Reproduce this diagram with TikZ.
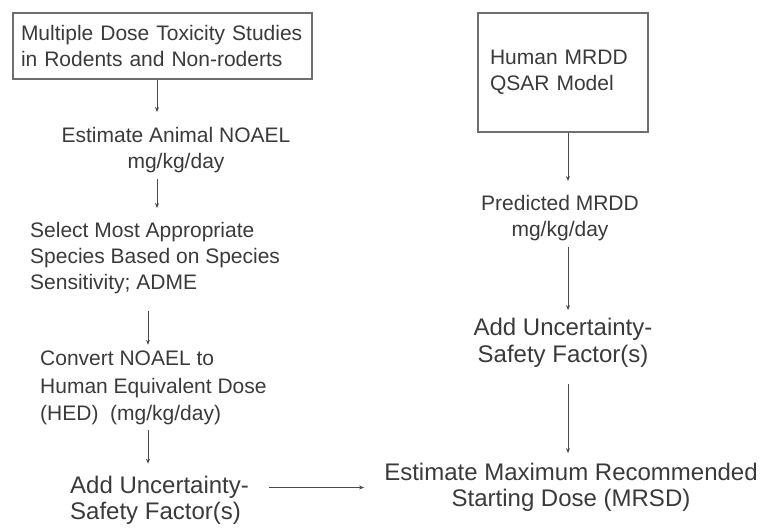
\documentclass[tikz,border=0pt]{standalone}
\usepackage{fontspec}
\setmainfont{Liberation Sans}
\usetikzlibrary{arrows.meta}
\definecolor{txt}{HTML}{3A3A3A}
\definecolor{ln}{HTML}{4A4A4A}
\begin{document}
\begin{tikzpicture}[x=1pt,y=-1pt,
  base/.style={text=txt,inner sep=0pt,font=\fontsize{21}{26}\selectfont},
  big/.style={text=txt,inner sep=0pt,font=\fontsize{24}{26}\selectfont},
  boxnode/.style={draw=ln!80,line width=1.4pt,text=txt,font=\fontsize{21}{26}\selectfont,align=left},
  arr/.style={draw=ln,line width=0.9pt,-{Stealth[length=5pt,width=4pt]}}]
\useasboundingbox (0,0) rectangle (762,531);
% left column
\node[boxnode,minimum width=299pt,minimum height=66pt,text width=283pt,inner sep=0pt] (tox) at (162.5,46)
  {Multiple Dose Toxicity Studies\\in Rodents and Non-roderts};
\node[base,align=center] (noael) at (176,150) {Estimate Animal NOAEL\\mg/kg/day};
\node[base,align=left,anchor=west] (sel) at (30,258) {Select Most Appropriate\\Species Based on Species\\Sensitivity; ADME};
\node[base,align=left,anchor=west,font=\fontsize{21}{27.5}\selectfont] (hed) at (40,388) {Convert NOAEL to\\Human Equivalent Dose\\(HED)~ (mg/kg/day)};
\node[big,align=left,anchor=west] (addl) at (70,500) {Add Uncertainty-\\Safety Factor(s)};
% right column
\node[boxnode,minimum width=170pt,minimum height=119pt,text width=146pt,inner sep=0pt] (qsar) at (563,72.5)
  {Human MRDD\\QSAR Model};
\node[base,align=center] (pred) at (560,218) {Predicted MRDD\\mg/kg/day};
\node[big,align=center,font=\fontsize{24}{27}\selectfont] (addr) at (563,343) {Add Uncertainty-\\Safety Factor(s)};
\node[big,align=center] (mrsd) at (571,487.5) {Estimate Maximum Recommended\\Starting Dose (MRSD)};
% connector x positions
\coordinate (lxa) at (157,0);
\coordinate (lxb) at (148,0);
\coordinate (rx) at (568,0);
\draw[arr,shorten >=15pt] (lxa |- tox.south) -- (lxa |- noael.north);
\draw[arr,shorten <=6pt,shorten >=14pt] (lxa |- noael.south) -- (lxa |- sel.north);
\draw[arr,shorten <=17pt,shorten >=6pt] (lxb |- sel.south) -- (lxb |- hed.north);
\draw[arr,shorten <=5pt,shorten >=12pt] (lxb |- hed.south) -- (lxb |- addl.north);
\draw[arr,shorten >=14pt] (rx |- qsar.south) -- (rx |- pred.north);
\draw[arr,shorten <=6pt,shorten >=8pt] (rx |- pred.south) -- (rx |- addr.north);
\draw[arr,shorten <=16pt,shorten >=10pt] (rx |- addr.south) -- (rx |- mrsd.north);
\draw[arr,shorten <=20pt,shorten >=20pt] (addl.east |- mrsd.west) -- (mrsd.west);
\end{tikzpicture}
\end{document}
